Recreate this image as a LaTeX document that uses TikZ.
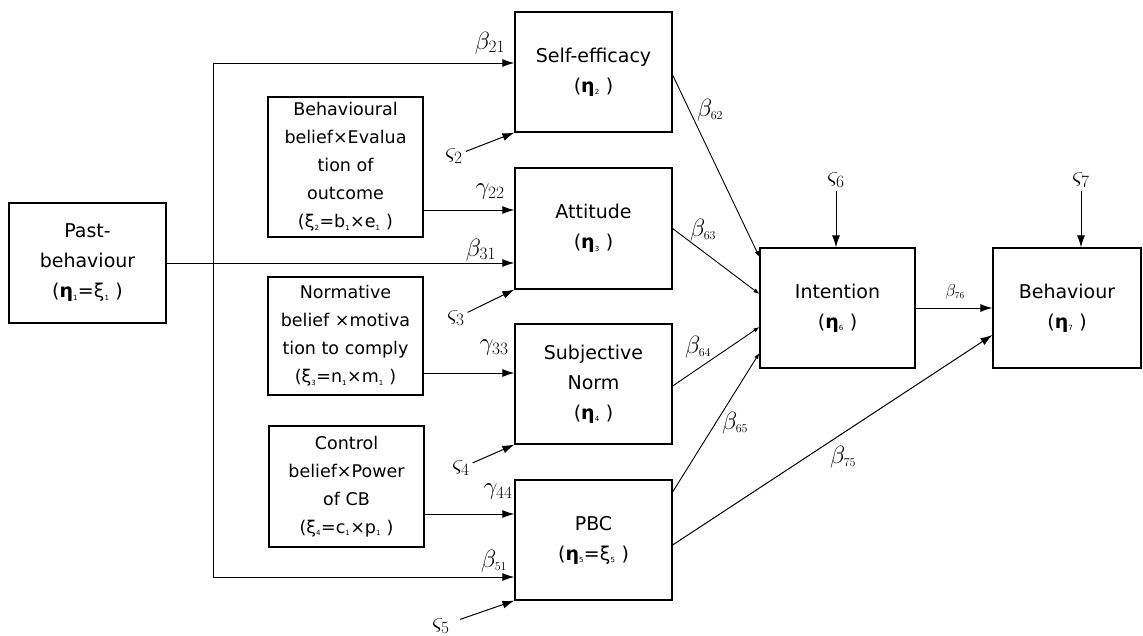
\documentclass[tikz,border=0pt]{standalone}
\usepackage{fontspec}
\setsansfont{DejaVu Sans}
\usetikzlibrary{arrows.meta}
\newcommand{\sbs}[1]{\textsubscript{\fontsize{7}{7}\selectfont #1}}
\tikzset{
  latbox/.style={draw,line width=1.2pt,align=center,minimum width=157pt,minimum height=120pt,inner sep=2pt,font=\sffamily\fontsize{19}{30}\selectfont},
  factbox/.style={latbox,minimum width=155pt,font=\sffamily\fontsize{17.5}{28}\selectfont},
  arr/.style={line width=1pt,-{Latex[length=12pt,width=8pt]}},
  thinarr/.style={line width=0.9pt,-{Latex[length=6pt,width=4.5pt]}},
  lab/.style={inner sep=1pt,font=\fontsize{23}{26}\selectfont}
}
\begin{document}
\begin{tikzpicture}[x=1pt,y=-1pt]
\useasboundingbox (0,0) rectangle (1143,635);

% latent variables
\node[latbox] (past) at (87.5,263) {Past-\\behaviour\\(\textbf{η}\sbs{1}=ξ\sbs{1}~)};
\node[latbox] (selfeff) at (593.5,72) {Self-efficacy\\(\textbf{η}\sbs{2}~)};
\node[latbox,minimum height=121pt] (att) at (593.5,228.5) {Attitude\\(\textbf{η}\sbs{3}~)};
\node[latbox] (subnorm) at (593.5,384) {Subjective\\Norm\\(\textbf{η}\sbs{4}~)};
\node[latbox] (pbc) at (593.5,540) {PBC\\(\textbf{η}\sbs{5}=ξ\sbs{5}~)};
\node[latbox,minimum width=155pt] (intent) at (837.5,308) {Intention\\(\textbf{η}\sbs{6}~)};
\node[latbox,minimum width=148pt] (behav) at (1067,308) {Behaviour\\(\textbf{η}\sbs{7}~)};

% belief products
\node[factbox,minimum height=140pt] (bbe) at (345.5,167) {Behavioural\\belief×Evalua\\tion of\\outcome\\(ξ\sbs{2}=b\sbs{1}×e\sbs{1}~)};
\node[factbox,minimum height=118pt] (nbm) at (345.5,336) {Normative\\belief ×motiva\\tion to comply\\(ξ\sbs{3}=n\sbs{1}×m\sbs{1}~)};
\node[factbox,minimum height=121pt] (cbp) at (346.5,486.5) {Control\\belief×Power\\of CB\\(ξ\sbs{4}=c\sbs{1}×p\sbs{1}~)};

% past behaviour paths
\coordinate (ttop) at (213,63);
\coordinate (tbot) at (213,577);
\draw[arr] (past.east) -- (past.east -| att.west);
\draw[arr] (tbot) -- (ttop) -- (ttop -| selfeff.west);
\draw[arr] (tbot) -- (tbot -| pbc.west);

\coordinate (g22) at ([yshift=-43pt]bbe.east);
\coordinate (g33) at ([yshift=-37pt]nbm.east);
\coordinate (g44) at ([yshift=-27.5pt]cbp.east);
\draw[arr] (g22) -- (g22 -| att.west);
\draw[arr] (g33) -- (g33 -| subnorm.west);
\draw[arr] (g44) -- (g44 -| pbc.west);

% disturbances
\node[lab] (z2) at (454,156) {$\varsigma_2$};
\node[lab] (z3) at (456,318) {$\varsigma_3$};
\node[lab] (z4) at (461,468) {$\varsigma_4$};
\node[lab] (z5) at (441,626) {$\varsigma_5$};
\node[lab] (z6) at (836,180) {$\varsigma_6$};
\node[lab] (z7) at (1081,180) {$\varsigma_7$};
\draw[arr,shorten <=2pt] (z2) -- (selfeff.south west);
\draw[arr,shorten <=2pt] (z3) -- (att.south west);
\draw[arr,shorten <=2pt] (z4) -- (subnorm.south west);
\draw[arr,shorten <=10pt] (z5) -- (pbc.south west);
\draw[arr,shorten <=3pt] (z6) -- (z6 |- intent.north);
\draw[arr,shorten <=3pt] (z7) -- (z7 |- behav.north);

% structural paths
\draw[thinarr] ([yshift=-3pt]selfeff.east) -- ([yshift=51pt]intent.west);
\draw[thinarr] (att.east) -- ([yshift=14pt]intent.west);
\draw[thinarr] ([yshift=-2pt]subnorm.east) -- ([yshift=-19pt]intent.west);
\draw[thinarr] ([yshift=48pt]pbc.east) -- ([yshift=-45pt]intent.west);
\draw[arr] ([yshift=-5pt]pbc.east) -- ([yshift=-27pt]behav.west);
\draw[arr] (intent.east) -- (behav.west);

% coefficients
\node[lab] (b21) at (490,43) {$\beta_{21}$};
\node[lab] (g22l) at (490,192) {$\gamma_{22}$};
\node[lab] (b31) at (481,250) {$\beta_{31}$};
\node[lab] (g33l) at (494,348) {$\gamma_{33}$};
\node[lab] (g44l) at (498,492) {$\gamma_{44}$};
\node[lab] (b51) at (494,561) {$\beta_{\scriptscriptstyle 51}$};
\node[lab] (b62) at (710,110) {$\beta_{\scriptscriptstyle 62}$};
\node[lab] (b63) at (703,230) {$\beta_{\scriptscriptstyle 63}$};
\node[lab] (b64) at (698,347) {$\beta_{\scriptscriptstyle 64}$};
\node[lab] (b65) at (735,423) {$\beta_{\scriptscriptstyle 65}$};
\node[lab] (b75) at (843,457) {$\beta_{\scriptscriptstyle 75}$};
\node[lab,font=\fontsize{18}{20}\selectfont] (b76) at (955,292) {$\beta_{\scriptscriptstyle 76}$};
\end{tikzpicture}
\end{document}
